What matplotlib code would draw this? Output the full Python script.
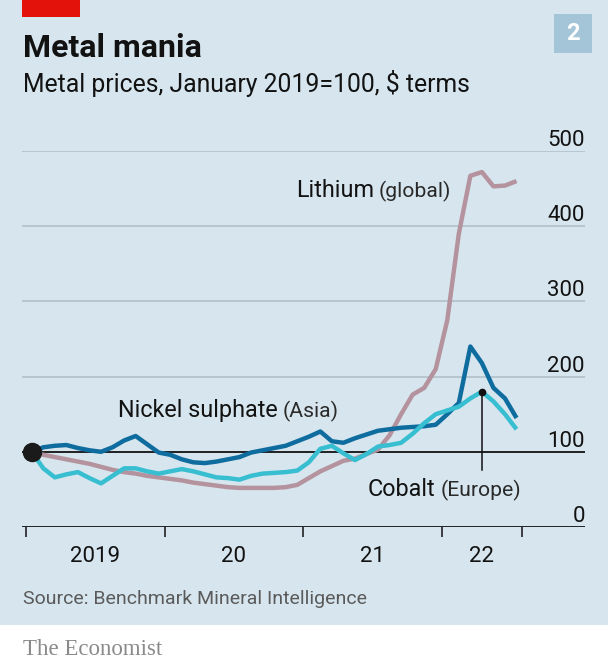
import numpy as np
import matplotlib
matplotlib.use("Agg")
import matplotlib.pyplot as plt
from matplotlib.patches import Rectangle
from matplotlib import transforms

# ---------------- data ----------------
months = np.arange(43) + 0.5          # mid-month, months since Jan 2019 (Jan 2019 .. Jul 2022)
nickel = [100, 106, 108, 109, 105, 102, 100, 106, 115, 121, 110, 99, 96, 90, 86, 85,
          87, 90, 93, 99, 102, 105, 108, 114, 120, 127, 114, 112, 118, 123, 128, 130,
          132, 133, 134, 136, 150, 165, 240, 218, 185, 171, 145]
cobalt = [100, 78, 66, 70, 73, 65, 58, 68, 78, 78, 74, 71, 74, 77, 74, 70,
          66, 65, 63, 68, 71, 72, 73, 75, 86, 104, 108, 98, 89, 97, 107, 109,
          112, 124, 138, 150, 155, 160, 171, 180, 167, 150, 130]
lithium = [100, 96, 93, 90, 87, 84, 80, 76, 73, 71, 68, 66, 64, 62, 59, 57,
           55, 53, 52, 52, 52, 52, 53, 56, 65, 74, 81, 88, 91, 97, 103, 122,
           150, 176, 185, 210, 275, 390, 467, 472, 453, 454, 460]
y_ticks = [0, 100, 200, 300, 400, 500]
y_labels = ["0", "100", "200", "300", "400", "500"]
x_ticks = [0, 12, 24, 36, 43]
year_pos = [6, 18, 30, 39.5]
year_labels = ["2019", "20", "21", "22"]

# ---------------- style ----------------
W, H, DPI = 608, 662, 100
BG = "#D7E6EE"
GRID = "#B3C4CD"
TXT = "#121212"
C_NICKEL = "#0F6C9F"
C_COBALT = "#38BED1"
C_LITH = "#B4939E"
FONT = "Roboto"

fig = plt.figure(figsize=(W / DPI, H / DPI), dpi=DPI)
fig.patch.set_facecolor("white")

def fx(x):
    return x / W

def fy(y):
    return 1 - y / H

# background panel
fig.patches.append(Rectangle((0, fy(625)), 1, 625 / H, transform=fig.transFigure,
                             facecolor=BG, edgecolor="none", zorder=-10))
# red tag
fig.patches.append(Rectangle((fx(22), fy(17)), 58 / W, 17 / H, transform=fig.transFigure,
                             facecolor="#E3120B", edgecolor="none", zorder=1))
# number box
fig.patches.append(Rectangle((fx(554), fy(53)), 38 / W, 39 / H, transform=fig.transFigure,
                             facecolor="#A4C5D7", edgecolor="none", zorder=1))
fig.text(fx(573), fy(34), "2", fontsize=17, fontweight="bold", color="white",
         ha="center", va="center", family=FONT)

fig.text(fx(23), fy(57), "Metal mania", fontsize=23, fontweight="bold", color=TXT,
         ha="left", va="baseline", family=FONT)
fig.text(fx(23), fy(92), "Metal prices, January 2019=100, $ terms", fontsize=17.8,
         color=TXT, ha="left", va="baseline", family=FONT)

# ---------------- axes ----------------
px_per_month = 138.5 / 12
x0_px = 26
ax = fig.add_axes([fx(22), fy(527), (585 - 22) / W, (527 - 151) / H])
ax.set_facecolor("none")
ax.set_xlim((22 - x0_px) / px_per_month, (585 - x0_px) / px_per_month)
ax.set_ylim(0, 500)
for s in ax.spines.values():
    s.set_visible(False)

for v in y_ticks:
    if v == 0 or v == 100:
        ax.axhline(v, color="#111111", lw=1.3, zorder=2)
    else:
        ax.axhline(v, color=GRID, lw=1.3, zorder=1)

lab_tr = transforms.offset_copy(transforms.blended_transform_factory(ax.transAxes, ax.transData),
                                fig=fig, x=0, y=5, units="dots")
for v, lab in zip(y_ticks, y_labels):
    ax.text(1.0, v, lab, transform=lab_tr, ha="right", va="baseline", fontsize=16,
            color=TXT, family=FONT)

ax.set_yticks([])
ax.set_xticks(x_ticks)
ax.set_xticklabels([])
ax.tick_params(axis="x", which="major", direction="out", length=7.5, width=1.1,
               color="#111111")
ax.set_xticks(year_pos, minor=True)
ax.set_xticklabels(year_labels, minor=True, fontsize=16, color=TXT, family=FONT)
ax.tick_params(axis="x", which="minor", length=0, pad=14)

lw = 3.2
kw = dict(lw=lw, solid_joinstyle="round", solid_capstyle="butt", clip_on=False)
ax.plot(months, lithium, color=C_LITH, zorder=3, **kw)
ax.plot(months, nickel, color=C_NICKEL, zorder=4, **kw)
ax.plot(months, cobalt, color=C_COBALT, zorder=5, **kw)
ax.plot(months[0], 100, "o", ms=13, color="#1A1A1A", zorder=10, clip_on=False)

# cobalt pointer
peak = 39
ax.plot([months[peak], months[peak]], [cobalt[peak], 76], color="#111111", lw=1.1, zorder=6)
ax.plot(months[peak], cobalt[peak], "o", ms=4.5, color="#111111", zorder=7)

# ---------------- labels ----------------
fig.canvas.draw()
renderer = fig.canvas.get_renderer()

def two_part(x, y, main, paren, s1=16.8, s2=15.2):
    t = fig.text(fx(x), fy(y), main, fontsize=s1, color=TXT, ha="left", va="baseline",
                 family=FONT)
    bb = t.get_window_extent(renderer)
    fig.text((bb.x1 + 5) / W, fy(y), paren, fontsize=s2, color="#2a2a2a", ha="left",
             va="baseline", family=FONT)

two_part(296, 197, "Lithium", "(global)")
two_part(118, 417, "Nickel sulphate", "(Asia)")
two_part(368, 496, "Cobalt", "(Europe)")

fig.text(fx(23), fy(604), "Source: Benchmark Mineral Intelligence", fontsize=14,
         color="#5A5A5A", ha="left", va="baseline", family=FONT)
fig.text(fx(23), fy(655), "The Economist", fontsize=16.5, color="#8A8A8A", ha="left",
         va="baseline", family="Liberation Serif")

fig.savefig("out.png", dpi=DPI, facecolor=fig.get_facecolor())
